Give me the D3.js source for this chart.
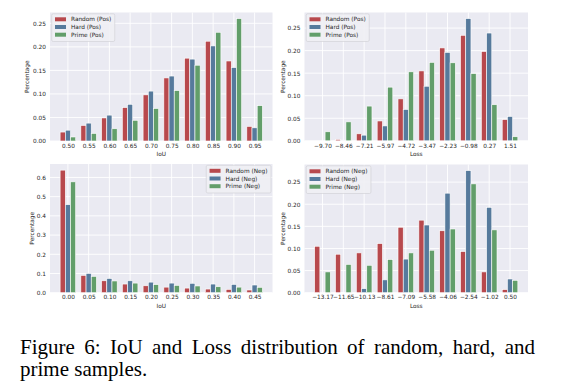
<!DOCTYPE html>
<html>
<head>
<meta charset="utf-8">
<script src="https://cdn.jsdelivr.net/npm/d3@7"></script>
<style>
  html, body { margin: 0; padding: 0; background: #fff; }
  svg { display: block; }
</style>
</head>
<body>
<svg id="chart" width="562" height="392"></svg>
<script>
// ---------------- data ----------------
const iouPosTicks = ["0.50","0.55","0.60","0.65","0.70","0.75","0.80","0.85","0.90","0.95"];
const iouPosRandom = [0.019,0.033,0.049,0.071,0.098,0.134,0.176,0.212,0.170,0.031];
const iouPosHard   = [0.023,0.038,0.055,0.078,0.106,0.138,0.174,0.202,0.156,0.028];
const iouPosPrime  = [0.0085,0.016,0.026,0.044,0.069,0.107,0.161,0.231,0.260,0.075];

const lossPosTicks = ["\u22129.70","\u22128.46","\u22127.21","\u22125.97","\u22124.72","\u22123.47","\u22122.23","\u22120.98","0.27","1.51"];
const lossPosRandom = [0.0,0.003,0.0155,0.044,0.093,0.155,0.206,0.234,0.198,0.047];
const lossPosHard   = [0.0,0.0015,0.0125,0.033,0.0695,0.121,0.196,0.271,0.239,0.054];
const lossPosPrime  = [0.020,0.042,0.077,0.119,0.153,0.174,0.173,0.149,0.080,0.009];

const iouNegTicks = ["0.00","0.05","0.10","0.15","0.20","0.25","0.30","0.35","0.40","0.45"];
const iouNegRandom = [0.638,0.090,0.062,0.045,0.036,0.029,0.024,0.019,0.017,0.014];
const iouNegHard   = [0.458,0.100,0.074,0.062,0.055,0.050,0.049,0.045,0.043,0.040];
const iouNegPrime  = [0.577,0.085,0.061,0.050,0.042,0.038,0.035,0.031,0.029,0.028];

const lossNegTicks = ["\u221213.17","\u221211.65","\u221210.13","\u22128.61","\u22127.09","\u22125.58","\u22124.06","\u22122.54","\u22121.02","0.50"];
const lossNegRandom = [0.105,0.087,0.090,0.111,0.148,0.164,0.140,0.093,0.047,0.007];
const lossNegHard   = [0.0,0.001,0.009,0.029,0.076,0.153,0.225,0.276,0.193,0.031];
const lossNegPrime  = [0.047,0.064,0.062,0.075,0.090,0.096,0.144,0.246,0.142,0.028];

const posNames = ["Random (Pos)","Hard (Pos)","Prime (Pos)"];
const negNames = ["Random (Neg)","Hard (Neg)","Prime (Neg)"];
const colors = ["#b8494d","#567a9c","#629e6a"];

const captionLine1 = "Figure 6: IoU and Loss distribution of random, hard, and";
const captionLine2 = "prime samples.";

// ---------------- drawing ----------------
const svg = d3.select("#chart");
const FONT = "DejaVu Sans, sans-serif";
const FS = 5.8;

function panel(opts) {
  const {x0, x1, y0, y1, ticks, series, names, xlabel, yTicks, yFmt, legendRight, ylabelX} = opts;
  const g = svg.append("g");
  const n = ticks.length;
  const barW = 0.25;
  const xs = d3.scaleLinear().domain([-0.375 - 0.4875, (n - 1) + 0.375 + 0.4875]).range([x0, x1]);
  const maxV = d3.max(series.flat());
  const ys = d3.scaleLinear().domain([0, maxV * 1.05]).range([y1, y0]);

  g.append("rect").attr("x", x0).attr("y", y0).attr("width", x1 - x0).attr("height", y1 - y0)
    .attr("fill", "#eaeaf2");

  // grid
  g.append("g").selectAll("line").data(yTicks).join("line")
    .attr("x1", x0).attr("x2", x1).attr("y1", d => ys(d)).attr("y2", d => ys(d))
    .attr("stroke", "#fff").attr("stroke-width", 0.9);
  g.append("g").selectAll("line").data(d3.range(n)).join("line")
    .attr("x1", d => xs(d)).attr("x2", d => xs(d)).attr("y1", y0).attr("y2", y1)
    .attr("stroke", "#fff").attr("stroke-width", 0.9);

  // bars
  series.forEach((vals, si) => {
    const off = (si - 1) * barW;
    g.append("g").selectAll("rect").data(vals).join("rect")
      .attr("x", (d, i) => xs(i + off - barW / 2))
      .attr("width", xs(barW) - xs(0))
      .attr("y", d => ys(d))
      .attr("height", d => ys(0) - ys(d))
      .attr("fill", colors[si])
      .attr("stroke", "#fff").attr("stroke-width", 0.6);
  });

  // axes
  const xAxis = d3.axisBottom(xs).tickValues(d3.range(n)).tickFormat(i => ticks[i]).tickSize(0).tickPadding(2.6);
  const gx = g.append("g").attr("transform", `translate(0,${y1})`).call(xAxis);
  const yAxis = d3.axisLeft(ys).tickValues(yTicks).tickFormat(yFmt).tickSize(0).tickPadding(4);
  const gy = g.append("g").attr("transform", `translate(${x0},0)`).call(yAxis);
  [gx, gy].forEach(a => {
    a.select(".domain").remove();
    a.selectAll("text").attr("font-family", FONT).attr("font-size", FS).attr("fill", "#262626");
  });

  // axis labels
  g.append("text").attr("x", (x0 + x1) / 2).attr("y", y1 + 15.2)
    .attr("text-anchor", "middle").attr("font-family", FONT).attr("font-size", FS).attr("fill", "#262626")
    .text(xlabel);
  g.append("text").attr("transform", `translate(${ylabelX},${(y0 + y1) / 2}) rotate(-90)`)
    .attr("text-anchor", "middle").attr("dominant-baseline", "central")
    .attr("font-family", FONT).attr("font-size", FS).attr("fill", "#262626")
    .text("Percentage");

  // legend
  const lg = g.append("g");
  const box = lg.append("rect");
  let maxW = 0;
  names.forEach((nm, i) => {
    const t = lg.append("text").attr("x", 19.3).attr("y", 5.5 + i * 7.7).attr("dy", "0.35em")
      .attr("font-family", FONT).attr("font-size", FS).attr("fill", "#262626").text(nm);
    maxW = Math.max(maxW, t.node().getComputedTextLength());
    lg.append("rect").attr("x", 3.3).attr("y", 5.5 + i * 7.7 - 2).attr("width", 11).attr("height", 4)
      .attr("fill", colors[i]);
  });
  const bw = 19.3 + maxW + 3.5, bh = 27.7;
  box.attr("width", bw).attr("height", bh).attr("rx", 1.5)
    .attr("fill", "#efeff4").attr("fill-opacity", 0.9).attr("stroke", "#cfcfd4").attr("stroke-width", 0.6);
  const lx = legendRight ? x1 - 1.5 - bw : x0 + 1.7;
  lg.attr("transform", `translate(${lx},${y0 + 1.3})`);
}

const y2 = [0, 0.05, 0.10, 0.15, 0.20, 0.25];
const f2 = d3.format(".2f");

panel({x0: 50, x1: 272.5, y0: 12.5, y1: 141, ticks: iouPosTicks,
  series: [iouPosRandom, iouPosHard, iouPosPrime], names: posNames, xlabel: "IoU",
  yTicks: y2, yFmt: f2, legendRight: false, ylabelX: 27.3});
panel({x0: 304.5, x1: 528, y0: 12.5, y1: 140.8, ticks: lossPosTicks,
  series: [lossPosRandom, lossPosHard, lossPosPrime], names: posNames, xlabel: "Loss",
  yTicks: y2, yFmt: f2, legendRight: false, ylabelX: 282.7});
panel({x0: 50, x1: 272.5, y0: 164, y1: 292.7, ticks: iouNegTicks,
  series: [iouNegRandom, iouNegHard, iouNegPrime], names: negNames, xlabel: "IoU",
  yTicks: [0, 0.1, 0.2, 0.3, 0.4, 0.5, 0.6], yFmt: d3.format(".1f"), legendRight: true, ylabelX: 31.7});
panel({x0: 304.5, x1: 528, y0: 164.5, y1: 292.7, ticks: lossNegTicks,
  series: [lossNegRandom, lossNegHard, lossNegPrime], names: negNames, xlabel: "Loss",
  yTicks: y2, yFmt: f2, legendRight: false, ylabelX: 282.7});

// caption
const CF = "Liberation Serif, Times New Roman, serif";
const CFS = 21;
const c1 = svg.append("text").attr("x", 20).attr("y", 353.5)
  .attr("font-family", CF).attr("font-size", CFS).attr("fill", "#000").text(captionLine1);
const natural = c1.node().getComputedTextLength();
const spaces = captionLine1.split(" ").length - 1;
c1.attr("word-spacing", Math.max(0, (535 - 20 - natural) / spaces));
svg.append("text").attr("x", 20).attr("y", 375.5)
  .attr("font-family", CF).attr("font-size", CFS).attr("fill", "#000").text(captionLine2);
</script>
</body>
</html>
